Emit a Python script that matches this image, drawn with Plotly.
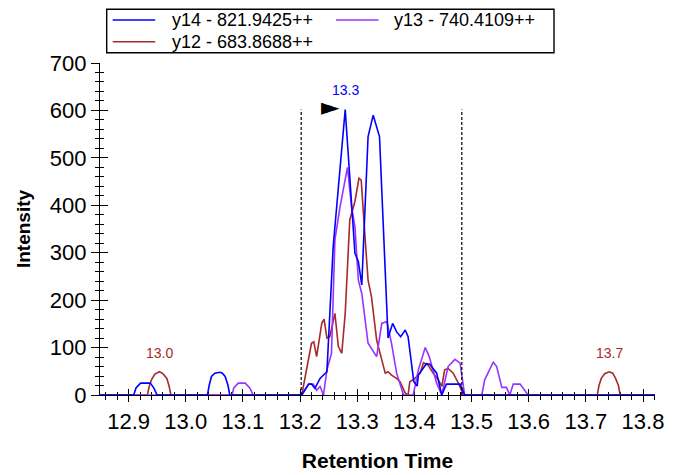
import plotly.graph_objects as go

# ---------------- data ----------------
y14_name = "y14 - 821.9425++"
y14_rt = [12.850, 12.909, 12.913, 12.921, 12.938, 12.944, 12.950,
          13.038, 13.041, 13.045, 13.051, 13.060, 13.064, 13.069, 13.074, 13.077,
          13.203, 13.215, 13.220, 13.226, 13.235, 13.247, 13.258, 13.279, 13.296, 13.302,
          13.308, 13.319, 13.328, 13.339, 13.354, 13.362, 13.369, 13.376, 13.384, 13.389,
          13.399, 13.405, 13.407, 13.421, 13.427, 13.439, 13.448, 13.456, 13.480, 13.488, 13.821]
y14_int = [0, 0, 15, 25, 25, 15, 0,
           0, 20, 39, 46, 48, 46, 39, 20, 0,
           0, 23, 23, 14, 35, 49, 313, 602, 299, 281,
           232, 545, 590, 545, 120, 151, 133, 123, 137, 123,
           28, 19, 42, 66, 65, 46, 0, 23, 23, 0, 0]

y13_name = "y13 - 740.4109++"
y13_rt = [12.850, 13.081, 13.084, 13.092, 13.104, 13.112, 13.118,
          13.203, 13.215, 13.223, 13.229, 13.235,
          13.241, 13.247, 13.255, 13.261, 13.270, 13.283, 13.290, 13.296, 13.302, 13.308,
          13.319, 13.334, 13.343, 13.352, 13.360, 13.369, 13.381, 13.398, 13.407, 13.419,
          13.426, 13.439, 13.448, 13.459, 13.471, 13.480, 13.488, 13.518, 13.523, 13.538,
          13.544, 13.553, 13.561, 13.567, 13.573, 13.585, 13.599, 13.821]
y13_int = [0, 0, 15, 25, 25, 15, 0,
           0, 23, 23, 10, 18,
           0, 53, 88, 327, 397, 480, 397, 355, 242, 214,
           109, 81, 151, 155, 109, 46, 0, 0, 53, 100,
           81, 25, 0, 60, 75, 67, 0, 0, 32, 69,
           60, 16, 16, 0, 23, 23, 0, 0]

y12_name = "y12 - 683.8688++"
y12_rt = [12.850, 12.933, 12.936, 12.940, 12.946, 12.954, 12.960, 12.967, 12.971, 12.974,
          13.203, 13.212, 13.220, 13.224,
          13.229, 13.238, 13.242, 13.247, 13.252, 13.261, 13.267, 13.273, 13.279, 13.287,
          13.296, 13.303, 13.307, 13.314, 13.319, 13.325, 13.334, 13.343, 13.349, 13.354,
          13.360, 13.369, 13.375, 13.384, 13.389, 13.392, 13.401, 13.410, 13.416, 13.424,
          13.433, 13.442, 13.448, 13.453, 13.459, 13.468, 13.477, 13.486,
          13.720, 13.723, 13.727, 13.733, 13.741, 13.747, 13.752, 13.757, 13.760, 13.821]
y12_int = [0, 0, 18, 32, 44, 49, 45, 35, 18, 0,
           0, 60, 109, 112,
           81, 151, 160, 120, 123, 172, 102, 88, 172, 369,
           408, 457, 453, 327, 242, 207, 116, 74, 46, 49,
           42, 35, 28, 4, 0, 28, 35, 46, 68, 63,
           46, 32, 18, 53, 56, 46, 25, 0,
           0, 20, 35, 45, 49, 46, 35, 20, 0, 0]

# integration boundaries and peak labels
boundary_rt = [13.202, 13.483]
boundary_top = 602
peak_label_text = ["13.0", "13.3", "13.7"]
peak_label_rt = [12.954, 13.279, 13.741]
peak_label_int = [49, 602, 49]
peak_label_color = ["#A52A2A", "#0000FF", "#A52A2A"]
marker_rt = 13.253
marker_int = 607

x_range = [12.850, 13.821]
y_range = [0, 700]

BLUE = "#0000FF"
PURPLE = "#9933FF"
RED = "#A52A2A"
FONT = "Arial, Liberation Sans, sans-serif"

# The page body adds an 8px offset; compensate so the plot area sits at
# screen x 100..655, y 63..395.
OFF = 8
W, H = 677 - OFF, 475 - OFF
ML, MR, MT, MB = 100 - OFF, 677 - 655, 63 - OFF, 475 - 395
PW, PH = W - ML - MR, H - MT - MB


def px(sx):   # screen x -> paper x
    return (sx - 100) / PW


def py(sy):   # screen y -> paper y
    return (395 - sy) / PH


series = [(y14_name, y14_rt, y14_int, BLUE),
          (y13_name, y13_rt, y13_int, PURPLE),
          (y12_name, y12_rt, y12_int, RED)]

fig = go.Figure()
for name, xs, ys, col in reversed(series):
    fig.add_trace(go.Scatter(x=xs, y=ys, mode="lines", name=name,
                             line=dict(color=col, width=1.6), showlegend=False))
# helper trace for the overlay axes (inside ticks)
fig.add_trace(go.Scatter(x=x_range, y=y_range, xaxis="x2", yaxis="y2", mode="lines",
                         line=dict(width=0), showlegend=False, hoverinfo="skip", opacity=0))

for xb in boundary_rt:
    fig.add_shape(type="line", xref="x", yref="y", x0=xb, x1=xb, y0=0, y1=boundary_top,
                  line=dict(color="black", width=1.2, dash="3px,2px"), layer="above")

for t, xr, yi, c in zip(peak_label_text, peak_label_rt, peak_label_int, peak_label_color):
    fig.add_annotation(x=xr, y=yi, text=t, showarrow=False, yshift=19,
                       font=dict(family=FONT, size=14, color=c))

# apex pointer
fig.add_annotation(x=marker_rt, y=marker_int, text="\u25BA", showarrow=False,
                   font=dict(family="DejaVu Sans", size=24, color="black"))

# ---- legend (box, line samples, names) ----
fig.add_shape(type="rect", xref="paper", yref="paper", x0=px(106.7), x1=px(554),
              y0=py(52.7), y1=py(9.3), line=dict(color="black", width=1.4),
              fillcolor="white", layer="above")
leg_slots = [(112.7, 170.7, 20.0), (336.0, 393.3, 20.0), (112.7, 170.7, 41.7)]
for (name, xs, ys, col), (lx, tx, ly) in zip(series, leg_slots):
    fig.add_shape(type="line", xref="paper", yref="paper", x0=px(lx), x1=px(lx + 42.5),
                  y0=py(ly), y1=py(ly), line=dict(color=col, width=1.6), layer="above")
    fig.add_annotation(xref="paper", yref="paper", x=px(tx - 1), y=py(ly), text=name,
                       showarrow=False, xanchor="left", yanchor="middle",
                       font=dict(family=FONT, size=18, color="black"))

axis_common = dict(showgrid=False, zeroline=False, automargin=False)
fig.update_layout(
    width=W, height=H,
    margin=dict(l=ML, r=MR, t=MT, b=MB, autoexpand=False),
    paper_bgcolor="white", plot_bgcolor="white",
    font=dict(family=FONT, color="black"),
    showlegend=False,
    xaxis=dict(range=x_range, **axis_common, showline=True, linecolor="black", linewidth=1.3,
               tickmode="linear", tick0=12.9, dtick=0.1, tickformat=".1f",
               ticks="outside", ticklen=6, tickwidth=1.3, tickcolor="black",
               minor=dict(dtick=0.02, tick0=12.9, ticks="outside", ticklen=3.5,
                          tickwidth=1, tickcolor="black", showgrid=False),
               tickfont=dict(family=FONT, size=22), layer="below traces",
               title=dict(text="<b>Retention Time</b>", font=dict(family=FONT, size=21),
                          standoff=20)),
    yaxis=dict(range=y_range, **axis_common, showline=True, linecolor="black", linewidth=1.3,
               tickmode="linear", tick0=0, dtick=100,
               ticks="outside", ticklen=8, tickwidth=1.3, tickcolor="black",
               minor=dict(dtick=20, ticks="outside", ticklen=4, tickwidth=1,
                          tickcolor="black", showgrid=False),
               tickfont=dict(family=FONT, size=22), layer="below traces",
               title=dict(text="<b>Intensity</b>", font=dict(family=FONT, size=19),
                          standoff=14)),
    xaxis2=dict(range=x_range, overlaying="x", anchor="y2", side="bottom", **axis_common,
                showline=False, showticklabels=False, tickmode="linear", tick0=12.9, dtick=0.1,
                ticks="inside", ticklen=6, tickwidth=1.3, tickcolor="black",
                minor=dict(dtick=0.02, tick0=12.9, ticks="inside", ticklen=3.5,
                           tickwidth=1, tickcolor="black", showgrid=False),
                layer="below traces"),
    yaxis2=dict(range=y_range, overlaying="y", anchor="x2", side="left", **axis_common,
                showline=False, showticklabels=False, tickmode="linear", tick0=0, dtick=100,
                ticks="inside", ticklen=8, tickwidth=1.3, tickcolor="black",
                minor=dict(dtick=20, ticks="inside", ticklen=4, tickwidth=1,
                           tickcolor="black", showgrid=False),
                layer="below traces"),
)

fig.write_html("out.html")
